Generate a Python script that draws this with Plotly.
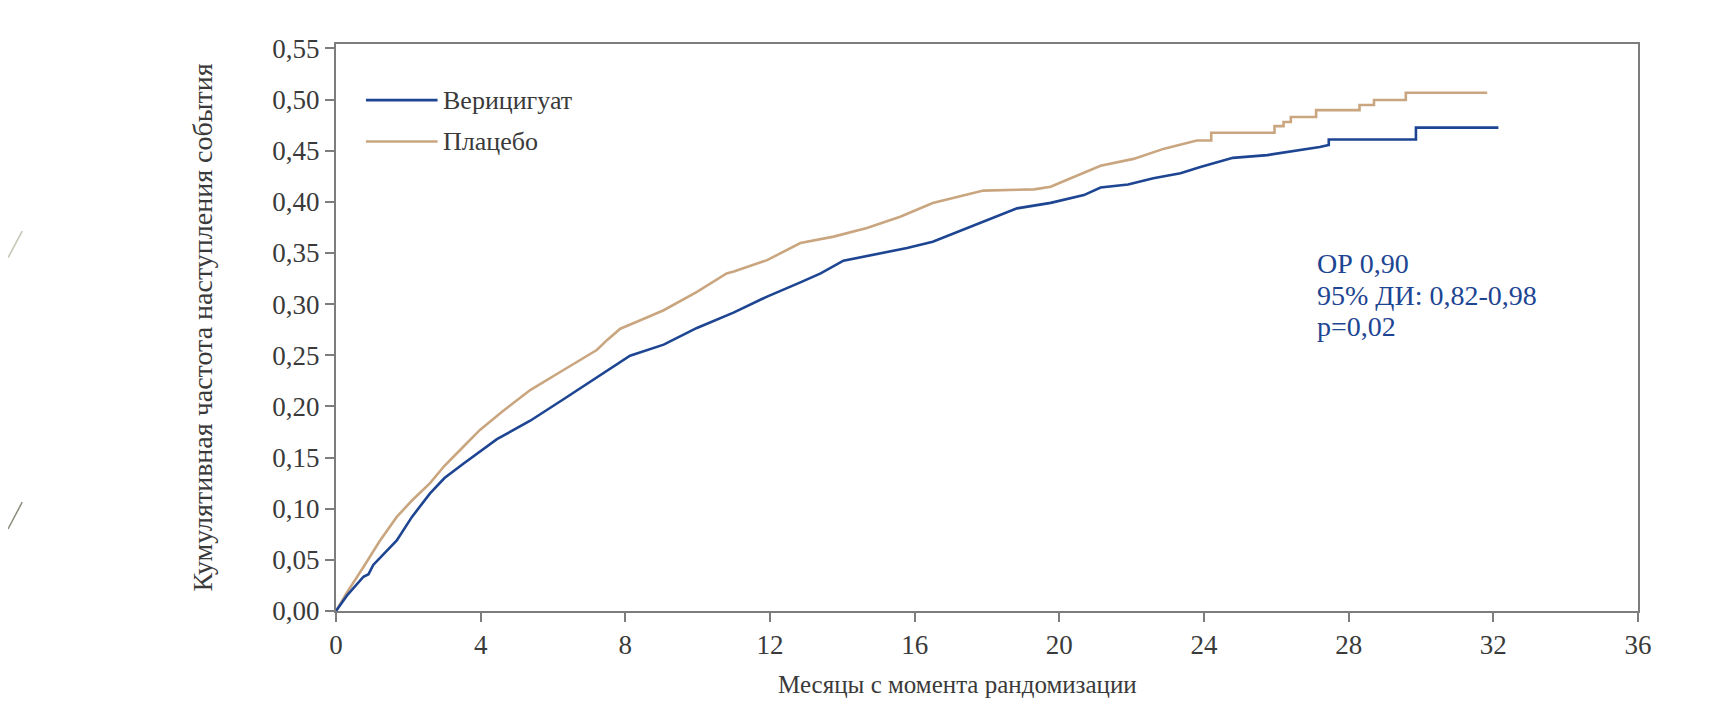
import plotly.graph_objects as go

# ---------------- data ----------------
vericiguat_months = [0, 0.3, 0.76, 0.9, 1.03, 1.68, 2.1, 2.6, 3.0, 3.52, 4.45, 5.37, 6.29,
                     7.21, 8.13, 9.06, 9.98, 10.99, 11.92, 12.84, 13.4, 14.03, 15.14, 15.79,
                     16.5, 17.45, 18.37, 18.83, 19.76, 20.68, 21.14, 21.9, 22.6, 23.35, 23.9,
                     24.8, 25.75, 26.67, 27.2, 27.45, 27.45, 29.86, 29.86, 32.14]
vericiguat_values = [0, 0.015, 0.0335, 0.036, 0.045, 0.069, 0.092, 0.115, 0.130, 0.144, 0.168,
                     0.186, 0.207, 0.2285, 0.2496, 0.2604, 0.2767, 0.2917, 0.3074, 0.3213,
                     0.330, 0.3425, 0.3503, 0.3548, 0.361, 0.374, 0.387, 0.3936, 0.399, 0.4066,
                     0.414, 0.417, 0.423, 0.428, 0.434, 0.443, 0.4457, 0.4506, 0.4536, 0.4555,
                     0.461, 0.461, 0.4725, 0.4725]

placebo_months = [0, 0.3, 0.76, 1.2, 1.68, 2.1, 2.6, 3.0, 3.52, 3.98, 4.6, 5.37, 6.29, 7.21,
                  7.5, 7.86, 8.4, 9.06, 9.98, 10.8, 11.0, 11.92, 12.84, 13.76, 14.68, 15.6,
                  16.5, 17.45, 17.9, 19.3, 19.76, 20.2, 21.14, 22.05, 22.9, 23.8, 24.2, 24.2,
                  25.95, 25.95, 26.2, 26.2, 26.4, 26.4, 27.1, 27.1, 28.3, 28.3, 28.7, 28.7,
                  29.58, 29.58, 31.83]
placebo_values = [0, 0.018, 0.043, 0.068, 0.092, 0.108, 0.125, 0.142, 0.1606, 0.177, 0.195,
                  0.216, 0.2356, 0.2551, 0.265, 0.276, 0.284, 0.294, 0.312, 0.330, 0.332,
                  0.343, 0.3597, 0.366, 0.3744, 0.3855, 0.3988, 0.4066, 0.411, 0.4122, 0.4148,
                  0.4213, 0.4353, 0.442, 0.452, 0.460, 0.460, 0.4676, 0.4676, 0.474, 0.474,
                  0.478, 0.478, 0.483, 0.483, 0.4897, 0.4897, 0.4946, 0.4946, 0.4995, 0.4995,
                  0.5067, 0.5067]

series_names = ["Верицигуат", "Плацебо"]
x_tick_vals = [0, 4, 8, 12, 16, 20, 24, 28, 32, 36]
x_tick_text = ["0", "4", "8", "12", "16", "20", "24", "28", "32", "36"]
y_tick_vals = [0, 0.05, 0.10, 0.15, 0.20, 0.25, 0.30, 0.35, 0.40, 0.45, 0.50, 0.55]
y_tick_text = ["0,00", "0,05", "0,10", "0,15", "0,20", "0,25", "0,30", "0,35", "0,40",
               "0,45", "0,50", "0,55"]
stats_lines = ["ОР 0,90", "95% ДИ: 0,82-0,98", "p=0,02"]
x_title = "Месяцы с момента рандомизации"
y_title = "Кумулятивная частота наступления события"

# ---------------- styling ----------------
BLUE = "#1d4592"
TAN = "#c9a67f"
AXIS = "#7d7d7d"
TEXT = "#3a3a3a"
FONT = "Liberation Serif"

fig = go.Figure()
fig.add_trace(go.Scatter(x=placebo_months, y=placebo_values, mode="lines",
                         name=series_names[1], line=dict(color=TAN, width=2.6),
                         showlegend=False))
fig.add_trace(go.Scatter(x=vericiguat_months, y=vericiguat_values, mode="lines",
                         name=series_names[0], line=dict(color=BLUE, width=2.6),
                         showlegend=False))

# manual legend (long line samples as in the reference)
legend_rows = [(series_names[0], BLUE, 0.901), (series_names[1], TAN, 0.828)]
for name, col, yp in legend_rows:
    fig.add_shape(type="line", xref="paper", yref="paper", x0=0.023, x1=0.078,
                  y0=yp, y1=yp, line=dict(color=col, width=2.6))
    fig.add_annotation(text=name, xref="paper", yref="paper", x=0.081, y=yp,
                       xanchor="left", yanchor="middle", showarrow=False,
                       font=dict(family=FONT, size=26, color=TEXT))

# statistics box
for txt, yp in zip(stats_lines, [0.6129, 0.5573, 0.5017]):
    fig.add_annotation(text=txt, xref="paper", yref="paper", x=0.752, y=yp,
                       xanchor="left", yanchor="middle", showarrow=False,
                       font=dict(family=FONT, size=28, color=BLUE))

# x-axis title (placed as in the reference, slightly left of the plot centre)
fig.add_annotation(text=x_title, xref="paper", yref="paper", x=0.477, y=-0.1305,
                   xanchor="center", yanchor="middle", showarrow=False,
                   font=dict(family=FONT, size=25, color=TEXT))

# slide decoration: faint diagonal strokes at the left edge
fig.add_shape(type="line", xref="paper", yref="paper", x0=-0.2519, y0=0.623,
              x1=-0.2410, y1=0.670, line=dict(color="#c2c6b2", width=1.5))
fig.add_shape(type="line", xref="paper", yref="paper", x0=-0.2519, y0=0.1446,
              x1=-0.2410, y1=0.192, line=dict(color="#8a8d7c", width=1.5))

fig.update_layout(
    width=1711, height=714, autosize=False,
    margin=dict(l=328, r=81, t=36, b=111),
    paper_bgcolor="white", plot_bgcolor="white",
    font=dict(family=FONT, color=TEXT),
    showlegend=False,
)
fig.update_xaxes(range=[0, 36], tickvals=x_tick_vals, ticktext=x_tick_text,
                 showgrid=False, zeroline=False, showline=True, linecolor=AXIS,
                 linewidth=2, mirror=True, ticks="outside", ticklen=9, tickwidth=1.5,
                 tickcolor=AXIS, tickfont=dict(family=FONT, size=27, color=TEXT))
fig.update_yaxes(range=[0, 0.5543], tickvals=y_tick_vals, ticktext=y_tick_text,
                 showgrid=False, zeroline=False, showline=True, linecolor=AXIS,
                 linewidth=2, mirror=True, ticks="outside", ticklen=9, tickwidth=1.5,
                 tickcolor=AXIS, tickfont=dict(family=FONT, size=27, color=TEXT),
                 title=dict(text=y_title, font=dict(family=FONT, size=28, color=TEXT),
                            standoff=52))

fig.write_html("out.html")
